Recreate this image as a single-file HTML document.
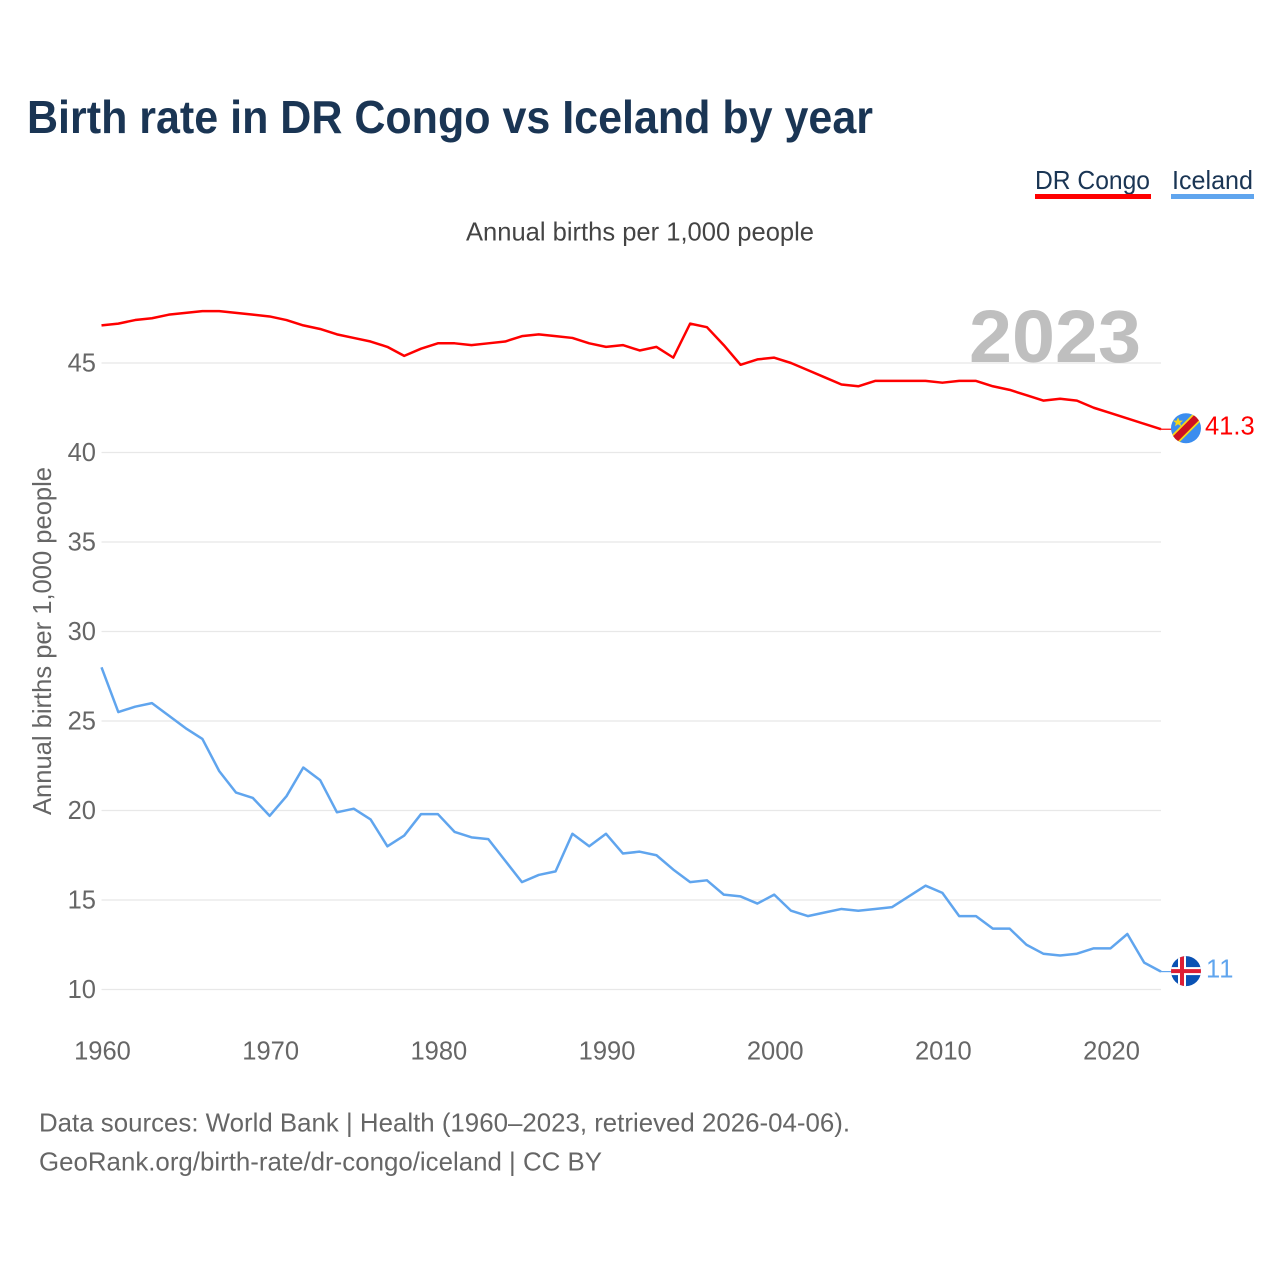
<!DOCTYPE html>
<html lang="en">
<head>
<meta charset="utf-8">
<title>Birth rate in DR Congo vs Iceland by year</title>
<style>
  html, body { margin: 0; padding: 0; background: #fff; }
  svg { display: block; }
  text { font-family: "Liberation Sans", sans-serif; }
</style>
</head>
<body>
<svg id="chart" xmlns="http://www.w3.org/2000/svg" width="1280" height="1280" viewBox="0 0 1280 1280">
  <rect x="0" y="0" width="1280" height="1280" fill="#ffffff"/>
  <text x="27" y="133" font-size="46" font-weight="700" fill="#1a3554" textLength="846" lengthAdjust="spacingAndGlyphs">Birth rate in DR Congo vs Iceland by year</text>

  <g>
    <text x="1035" y="189" font-size="26" fill="#1a3554" textLength="115" lengthAdjust="spacingAndGlyphs">DR Congo</text>
    <rect x="1035" y="194" width="116" height="5" fill="#ff0000"/>
  </g>
  <g>
    <text x="1172" y="189" font-size="26" fill="#1a3554" textLength="81" lengthAdjust="spacingAndGlyphs">Iceland</text>
    <rect x="1171" y="194" width="83" height="5" fill="#60a5ee"/>
  </g>

  <text x="466" y="240.5" font-size="26" fill="#444444" textLength="348" lengthAdjust="spacingAndGlyphs">Annual births per 1,000 people</text>
  <text transform="translate(51,815) rotate(-90)" x="0" y="0" font-size="26" fill="#666666" textLength="348" lengthAdjust="spacingAndGlyphs">Annual births per 1,000 people</text>

  <g id="grid"></g>
  <text x="1141" y="362" font-size="74" font-weight="700" fill="#bfbfbf" text-anchor="end" textLength="172" lengthAdjust="spacingAndGlyphs">2023</text>
  <g id="yticks"></g>
  <g id="xticks"></g>
  <g id="series"></g>

  <g id="flag-congo">
    <clipPath id="clip-congo"><circle cx="0" cy="0" r="15"/></clipPath>
    <g clip-path="url(#clip-congo)">
      <rect x="-16" y="-16" width="32" height="32" fill="#3b8def"/>
      <polygon points="-21.5,14 14,-21.5 21.5,-14 -14,21.5" fill="#f7d618"/>
      <polygon points="-20,15 15,-20 20,-15 -15,20" fill="#ce1021"/>
      <polygon points="-8,-11 -6.6,-7.6 -3,-7.6 -5.8,-5.4 -4.8,-2 -8,-4 -11,-2 -10.2,-5.4 -13,-7.6 -9.4,-7.6" fill="#f7d618"/>
    </g>
  </g>
  <g id="flag-iceland">
    <clipPath id="clip-iceland"><circle cx="0" cy="0" r="15"/></clipPath>
    <g clip-path="url(#clip-iceland)">
      <rect x="-16" y="-16" width="32" height="32" fill="#0a52b4"/>
      <rect x="-16" y="-4" width="32" height="8" fill="#ffffff"/>
      <rect x="-8" y="-16" width="8" height="32" fill="#ffffff"/>
      <rect x="-16" y="-2" width="32" height="4" fill="#dc1e35"/>
      <rect x="-6" y="-16" width="4" height="32" fill="#dc1e35"/>
    </g>
  </g>

  <text id="value-congo" x="1205" y="435" font-size="25.5" fill="#ff0000"></text>
  <text id="value-iceland" x="1206" y="978" font-size="25.5" letter-spacing="1" fill="#60a5ee"></text>

  <text x="39" y="1131.5" font-size="26" fill="#666666" textLength="811" lengthAdjust="spacingAndGlyphs">Data sources: World Bank | Health (1960–2023, retrieved 2026-04-06).</text>
  <text x="39" y="1170.5" font-size="26" fill="#666666" textLength="563" lengthAdjust="spacingAndGlyphs">GeoRank.org/birth-rate/dr-congo/iceland | CC BY</text>
</svg>

<script>
const startYear = 1960;
const congoValues = [47.1,47.2,47.4,47.5,47.7,47.8,47.9,47.9,47.8,47.7,47.6,47.4,47.1,46.9,46.6,46.4,46.2,45.9,45.4,45.8,46.1,46.1,46.0,46.1,46.2,46.5,46.6,46.5,46.4,46.1,45.9,46.0,45.7,45.9,45.3,47.2,47.0,46.0,44.9,45.2,45.3,45.0,44.6,44.2,43.8,43.7,44.0,44.0,44.0,44.0,43.9,44.0,44.0,43.7,43.5,43.2,42.9,43.0,42.9,42.5,42.2,41.9,41.6,41.3];
const icelandValues = [28.0,25.5,25.8,26.0,25.3,24.6,24.0,22.2,21.0,20.7,19.7,20.8,22.4,21.7,19.9,20.1,19.5,18.0,18.6,19.8,19.8,18.8,18.5,18.4,17.2,16.0,16.4,16.6,18.7,18.0,18.7,17.6,17.7,17.5,16.7,16.0,16.1,15.3,15.2,14.8,15.3,14.4,14.1,14.3,14.5,14.4,14.5,14.6,15.2,15.8,15.4,14.1,14.1,13.4,13.4,12.5,12.0,11.9,12.0,12.3,12.3,13.1,11.5,11.0];
const yTickValues = [10,15,20,25,30,35,40,45];
const xTickYears = [1960,1970,1980,1990,2000,2010,2020];

const NS = 'http://www.w3.org/2000/svg';
const PLOT_LEFT = 101.5, PLOT_RIGHT = 1161, YEAR_SPAN = 63;
const Y_BASE = 989.5, Y_UNIT = 17.9;

function xScale(year) {
  return PLOT_LEFT + (year - startYear) * (PLOT_RIGHT - PLOT_LEFT) / YEAR_SPAN;
}
function yScale(value) {
  return Y_BASE - (value - 10) * Y_UNIT;
}
function make(tag, attrs, parent) {
  const el = document.createElementNS(NS, tag);
  for (const key in attrs) el.setAttribute(key, attrs[key]);
  parent.appendChild(el);
  return el;
}

const gridGroup = document.getElementById('grid');
const yTickGroup = document.getElementById('yticks');
const xTickGroup = document.getElementById('xticks');
const seriesGroup = document.getElementById('series');

yTickValues.forEach(function (tick) {
  const line = make('line', { x1: PLOT_LEFT, x2: PLOT_RIGHT, y1: yScale(tick), y2: yScale(tick), stroke: '#e8e8e8', 'stroke-width': 1.2 }, gridGroup);
  
  
  const label = make('text', { x: 96, y: yScale(tick) + 8.5, 'text-anchor': 'end', 'font-size': 25.5, fill: '#666666' }, yTickGroup);
  label.textContent = String(tick);
  
  
});

xTickYears.forEach(function (year) {
  const label = make('text', { x: xScale(year) + 1, y: 1059.5, 'text-anchor': 'middle', 'font-size': 25.5, fill: '#666666' }, xTickGroup);
  label.textContent = String(year);
  
  
});

function pointsFor(values) {
  return values.map(function (v, i) {
    return xScale(startYear + i).toFixed(2) + ',' + yScale(v).toFixed(2);
  }).join(' ');
}

const congoLine = make('polyline', { points: pointsFor(congoValues), fill: 'none', stroke: '#ff0000', 'stroke-width': 2.5, 'stroke-linejoin': 'round' }, seriesGroup);



const icelandLine = make('polyline', { points: pointsFor(icelandValues), fill: 'none', stroke: '#60a5ee', 'stroke-width': 2.5, 'stroke-linejoin': 'round' }, seriesGroup);



const congoLast = congoValues[congoValues.length - 1];
const icelandLast = icelandValues[icelandValues.length - 1];

const congoLeader = make('line', { x1: PLOT_RIGHT, x2: 1172, y1: yScale(congoLast), y2: yScale(congoLast), stroke: '#ff0000', 'stroke-width': 1.2 }, seriesGroup);



const icelandLeader = make('line', { x1: PLOT_RIGHT, x2: 1172, y1: yScale(icelandLast), y2: yScale(icelandLast), stroke: '#60a5ee', 'stroke-width': 1.2 }, seriesGroup);



document.getElementById('flag-congo').setAttribute('transform', 'translate(1186,' + (yScale(congoLast) - 1) + ')');
document.getElementById('flag-iceland').setAttribute('transform', 'translate(1186,' + (yScale(icelandLast) - 0.5) + ')');

const congoValueLabel = document.getElementById('value-congo');
congoValueLabel.textContent = String(congoLast);
congoValueLabel.setAttribute('y', yScale(congoLast) + 5.5);

const icelandValueLabel = document.getElementById('value-iceland');
icelandValueLabel.textContent = String(icelandLast);
icelandValueLabel.setAttribute('y', yScale(icelandLast) + 6);
</script>
</body>
</html>
